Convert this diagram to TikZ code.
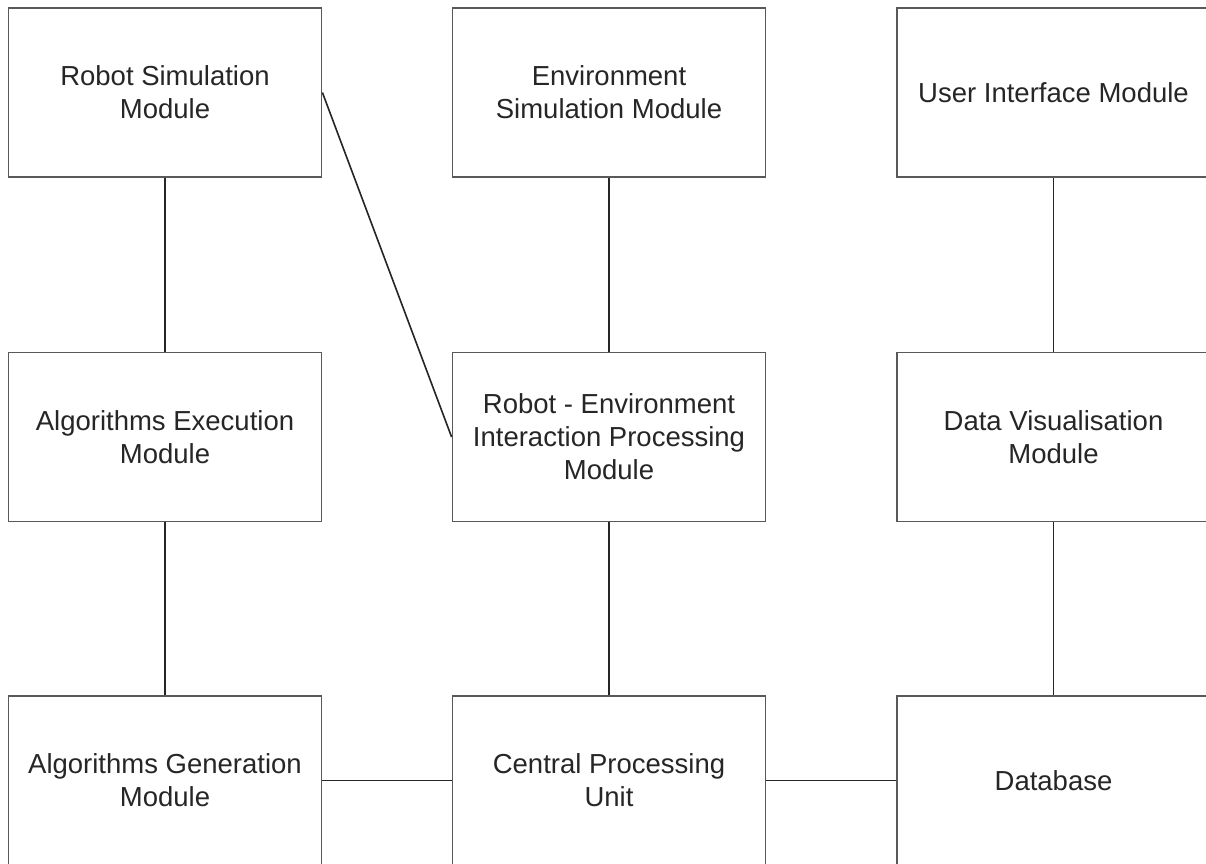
\documentclass[tikz,border=0pt]{standalone}
\usepackage{fontspec}
\setmainfont{Liberation Sans}
\begin{document}
\begin{tikzpicture}[x=1pt,y=-1pt,
  box/.style={draw=black!65,line width=1.8pt,fill=white,minimum width=313pt,minimum height=169pt,
    align=center,text=black!85,font=\fontsize{27.5}{33}\selectfont,inner sep=0pt},
  link/.style={draw=black!85,line width=1.6pt}]
\useasboundingbox (0,0) rectangle (1206,863);
\clip (0,0) rectangle (1206,863);
\node[box] (rs) at (165,92.5) {Robot Simulation\\Module};
\node[box] (es) at (609,92.5) {Environment\\Simulation Module};
\node[box] (ui) at (1053.5,92.5) {User Interface Module};
\node[box] (ae) at (165,437) {Algorithms Execution\\Module};
\node[box] (ri) at (609,437) {Robot - Environment\\Interaction Processing\\Module};
\node[box] (dv) at (1053.5,437) {Data Visualisation\\Module};
\node[box] (ag) at (165,780.5) {Algorithms Generation\\Module};
\node[box] (cp) at (609,780.5) {Central Processing\\Unit};
\node[box] (db) at (1053.5,780.5) {Database};
\draw[link] (rs.south) -- (ae.north);
\draw[link] (ae.south) -- (ag.north);
\draw[link] (es.south) -- (ri.north);
\draw[link] (ri.south) -- (cp.north);
\draw[link] (ui.south) -- (dv.north);
\draw[link] (dv.south) -- (db.north);
\draw[link] (ag.east) -- (cp.west);
\draw[link] (cp.east) -- (db.west);
\draw[link] (rs.east) -- (ri.west);
\end{tikzpicture}
\end{document}
